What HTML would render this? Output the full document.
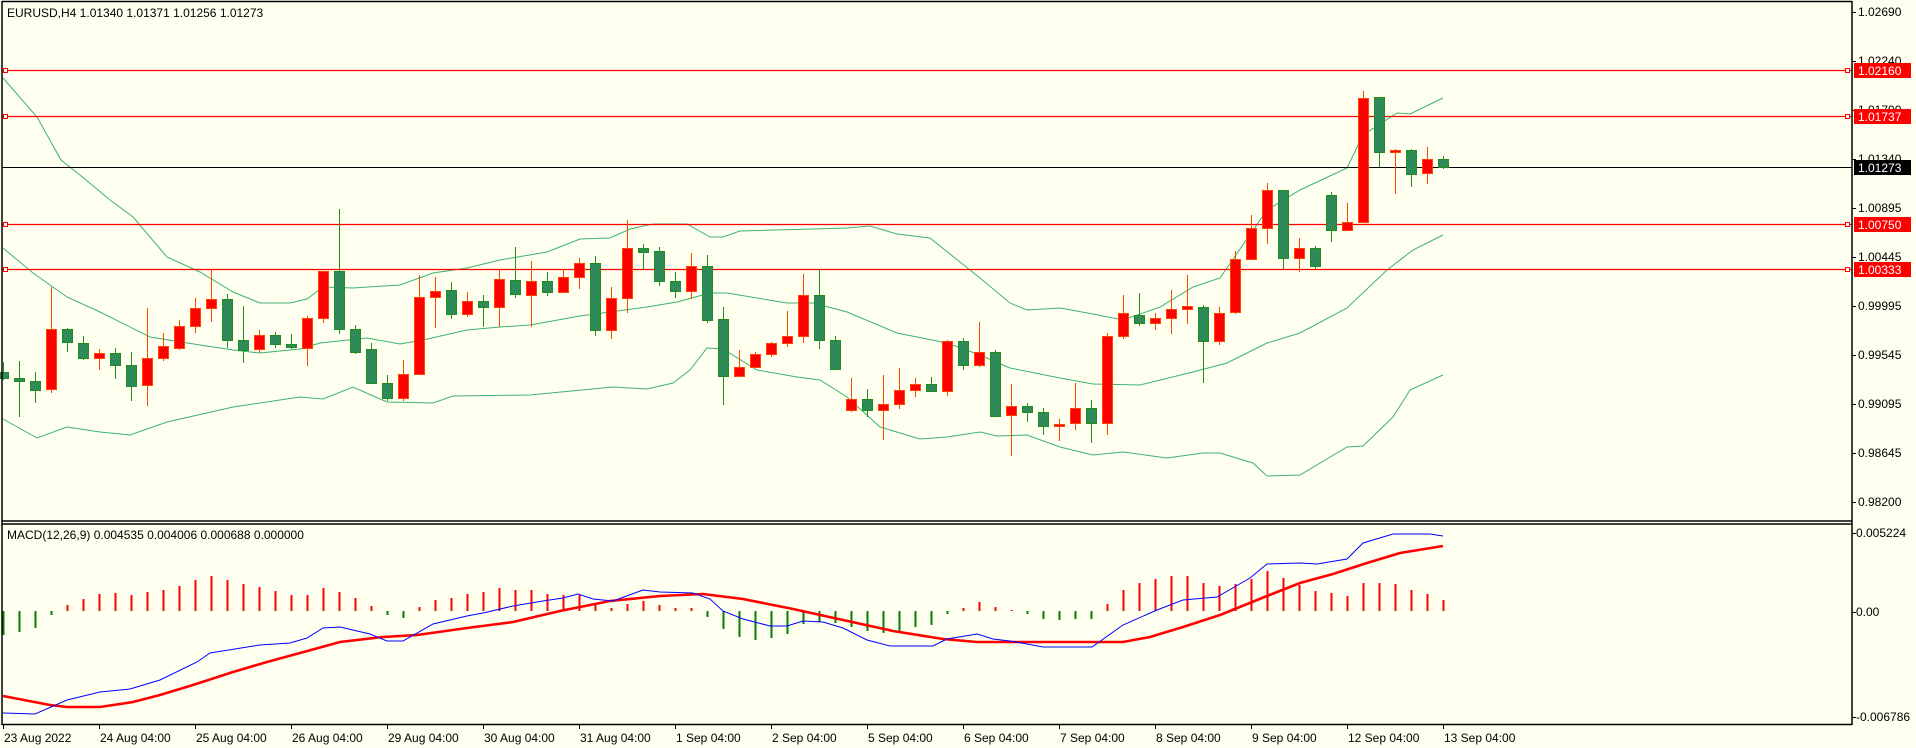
<!DOCTYPE html>
<html><head><meta charset="utf-8"><style>
html,body{margin:0;padding:0;background:#FFFFF0;}
svg{display:block;font-family:"Liberation Sans",Tahoma,sans-serif;font-size:12px;}
</style></head><body>
<svg id="c" width="1916" height="748" viewBox="0 0 1916 748" xmlns="http://www.w3.org/2000/svg">
<rect x="0" y="0" width="1916" height="748" fill="#FFFFF0"/>
<g id="bb" fill="none" stroke="#3CB371" stroke-width="1"></g>
<g id="hl"></g>
<g id="cd"></g>
<g id="mc"></g>
<g stroke="#000" stroke-width="1.5" fill="none">
<line x1="2" y1="1.5" x2="1852" y2="1.5"/>
<line x1="2" y1="1" x2="2" y2="725"/>
<line x1="1852" y1="1" x2="1852" y2="725"/>
<line x1="2" y1="521" x2="1852" y2="521"/>
<line x1="2" y1="524" x2="1852" y2="524"/>
<line x1="2" y1="724.5" x2="1852" y2="724.5"/>
</g>
<g id="ax" fill="#000"></g>
<text x="7" y="17" fill="#000">EURUSD,H4  1.01340 1.01371 1.01256 1.01273</text>
<text x="7" y="539" fill="#000">MACD(12,26,9) 0.004535 0.004006 0.000688 0.000000</text>
</svg>
<script>
var NS="http://www.w3.org/2000/svg";
function el(p,t,a,txt){var e=document.createElementNS(NS,t);for(var k in a)e.setAttribute(k,a[k]);if(txt!==undefined)e.textContent=txt;document.getElementById(p).appendChild(e);return e;}
function pts(a){return a.map(function(p){return p[0]+","+p[1]}).join(" ");}
var up=[[3,78],[37,117],[61,160],[80,175],[110,200],[133,217],[167,257],[200,272],[233,292],[260,303],[290,303],[307,299],[323,287],[353,288],[400,285],[433,273],[467,268],[500,260],[547,252],[580,239],[610,238],[630,229],[653,224],[687,224],[710,237],[723,237],[740,231],[813,229],[847,228],[870,226],[897,234],[930,238],[980,278],[1010,303],[1027,310],[1060,308],[1093,314],[1123,320],[1160,307],[1193,287],[1220,278],[1267,210],[1300,190],[1347,168],[1363,135],[1397,113],[1410,114],[1443,98]];
var mid=[[3,248],[33,273],[67,297],[100,312],[150,337],[200,345],[233,350],[260,353],[300,349],[320,343],[367,338],[400,344],[423,340],[467,330],[500,327],[530,325],[580,316],[647,307],[677,302],[710,293],[727,293],[787,303],[813,303],[847,312],[897,333],[947,343],[980,355],[1010,368],[1060,378],[1093,384],[1140,385],[1193,372],[1227,363],[1267,343],[1300,333],[1347,308],[1387,270],[1413,250],[1443,235]];
var lo=[[3,419],[37,438],[67,427],[100,432],[130,435],[167,422],[233,407],[300,397],[323,399],[353,387],[387,402],[433,403],[453,396],[530,395],[613,387],[647,389],[673,383],[690,370],[707,348],[723,349],[757,370],[797,377],[820,380],[847,397],[880,427],[920,439],[947,437],[980,432],[997,436],[1027,435],[1060,447],[1093,455],[1123,452],[1167,458],[1203,453],[1220,453],[1253,463],[1267,476],[1300,475],[1347,447],[1363,446],[1393,417],[1410,390],[1443,375]];
[up,mid,lo].forEach(function(a){el("bb","polyline",{points:pts(a)});});
[[70,"1.02160"],[116,"1.01737"],[224,"1.00750"],[269,"1.00333"]].forEach(function(h){
 el("hl","line",{x1:2,y1:h[0]+.5,x2:1852,y2:h[0]+.5,stroke:"#FF0000","stroke-width":1.2});
 el("hl","rect",{x:3.5,y:h[0]-1.5,width:4,height:4,fill:"#FFFFF0",stroke:"#FF0000"});
 el("hl","rect",{x:1845.5,y:h[0]-1.5,width:4,height:4,fill:"#FFFFF0",stroke:"#FF0000"});
});
el("hl","line",{x1:2,y1:167.5,x2:1852,y2:167.5,stroke:"#000","stroke-width":1});
var C=[
["g",372,378,362,380],["g",378,381,361,417],["g",381,390,372,403],["r",329,389,287,393],["g",329,342,328,352],["g",343,358,336,360],["r",353,358,349,370],["g",353,365,348,379],["g",365,386,352,401],["r",358,385,308,406],
["r",346,358,333,361],["r",326,348,320,350],["r",308,326,298,333],["r",299,308,270,322],["g",299,340,294,348],["g",340,350,306,363],["r",335,349,330,353],["g",335,344,332,348],["g",344,347,334,349],["r",318,348,316,366],
["r",271,318,271,323],["g",271,329,209,334],["g",329,352,325,354],["g",349,383,343,384],["g",383,398,375,401],["r",374,398,360,401],["r",297,374,275,374],["r",291,297,277,328],["g",290,314,282,319],["r",301,314,292,317],
["g",301,307,295,327],["r",279,307,270,327],["g",280,294,247,298],["r",281,295,261,327],["g",281,292,272,296],["r",277,292,269,292],["r",263,277,258,289],["g",263,330,256,336],["r",298,330,287,339],["r",248,298,220,313],
["g",248,252,244,269],["g",251,281,247,286],["g",281,291,272,298],["r",266,291,253,299],["g",266,320,255,323],["g",319,376,307,405],["r",367,376,350,377],["r",354,367,352,367],["r",343,354,342,357],["r",336,343,311,347],
["r",295,336,274,343],["g",295,340,269,349],["g",340,369,336,369],["r",399,410,378,412],["g",399,410,389,417],["r",404,410,375,440],["r",390,404,368,409],["r",384,390,378,397],["g",384,391,377,391],["r",341,391,340,396],
["g",341,365,338,370],["r",352,365,322,367],["g",352,416,350,417],["r",406,415,384,456],["g",406,412,403,422],["g",412,426,408,435],["r",424,426,419,441],["r",408,423,383,430],["g",408,423,400,443],["r",336,423,333,435],
["r",313,336,295,339],["g",315,323,293,326],["r",318,323,313,330],["r",309,318,290,334],["r",306,309,275,324],["g",307,341,305,383],["r",313,341,307,345],["r",259,312,251,314],["r",228,259,215,259],["r",190,228,183,244],
["g",190,258,190,269],["r",248,258,238,272],["g",248,266,246,269],["g",195,230,192,242],["r",222,230,203,231],["r",98,222,91,222],["g",97,152,97,167],["r",150,152,149,194],["g",150,174,149,187],["r",159,173,147,184],
["g",159,167,156,169]];
C.forEach(function(c,i){
 var x=3+16*i, st=c[0]=="r"?"#FF4500":"#228B22", f=c[0]=="r"?"#FF0000":"#2E8B57";
 el("cd","line",{x1:x+.5,y1:c[3],x2:x+.5,y2:c[4],stroke:st,"stroke-width":1});
 el("cd","rect",{x:x-4.5,y:c[1]+.5,width:10,height:Math.max(1,c[2]-c[1]),fill:f,stroke:st,"stroke-width":1});
});
var H=[-24,-21,-17,-4,6,12,17,18,16,19,21,25,31,35,31,27,24,20,16,16,23,19,13,5,-4,-7,4,11,13,17,19,23,21,21,17,16,16,6,3,7,10,6,3,3,-6,-18,-26,-29,-27,-23,-13,-11,-12,-16,-20,-22,-20,-16,-14,-3,3,9,4,1,-3,-8,-9,-8,-8,7,21,28,32,35,35,28,25,27,32,40,33,26,20,18,15,28,28,27,21,17,11];
H.forEach(function(v,i){var x=3+16*i;
 el("mc","rect",{x:x-.5,y:v>0?611-v:611,width:2,height:Math.abs(v),fill:v>0?"#FF0000":"#008000"});});
var blue=[[3,713],[35,714],[67,700],[100,692],[130,689],[160,680],[197,662],[210,653],[260,645],[290,643],[307,638],[323,628],[340,627],[370,634],[387,641],[403,641],[433,624],[467,616],[483,613],[513,606],[543,601],[563,598],[578,594],[593,599],[613,601],[643,590],[660,592],[693,593],[710,599],[723,611],[743,619],[770,626],[787,626],[803,621],[823,622],[843,628],[867,640],[890,646],[933,646],[947,639],[977,634],[993,639],[1010,641],[1027,644],[1043,647],[1092,647],[1123,625],[1157,610],[1183,600],[1217,597],[1250,578],[1267,564],[1300,563],[1317,564],[1347,559],[1363,543],[1393,534],[1430,534],[1443,536]];
var red=[[3,696],[50,705],[67,707],[100,707],[133,702],[160,695],[193,685],[233,672],[267,662],[300,653],[340,642],[383,637],[417,635],[467,628],[513,622],[560,611],[610,601],[660,596],[703,594],[743,599],[793,609],[843,620],[893,631],[943,639],[977,642],[1123,642],[1150,637],[1183,627],[1220,615],[1267,596],[1300,583],[1333,574],[1367,563],[1400,553],[1443,546]];
el("mc","polyline",{points:pts(red),fill:"none",stroke:"#FF0000","stroke-width":2.6});
el("mc","polyline",{points:pts(blue),fill:"none",stroke:"#0000FF","stroke-width":1});
["1.02690","1.02240","1.01790","1.01340","1.00895","1.00445","0.99995","0.99545","0.99095","0.98645","0.98200"].forEach(function(t,k){
 var y=Math.round(12+k*48.95);
 el("ax","line",{x1:1852,y1:y+.5,x2:1856,y2:y+.5,stroke:"#000"});
 el("ax","text",{x:1858,y:y+4},t);
});
[[70,"1.02160"],[116,"1.01737"],[224,"1.00750"],[269,"1.00333"]].forEach(function(h){
 el("ax","rect",{x:1854,y:h[0]-7,width:57,height:15,fill:"#FF0000"});
 el("ax","text",{x:1858,y:h[0]+5,fill:"#fff"},h[1]);});
el("ax","rect",{x:1854,y:160,width:57,height:15,fill:"#000"});
el("ax","text",{x:1858,y:172,fill:"#fff"},"1.01273");
[[533,"0.005224"],[612,"0.00"],[717,"-0.006786"]].forEach(function(m){
 el("ax","line",{x1:1852,y1:m[0]+.5,x2:1856,y2:m[0]+.5,stroke:"#000"});
 el("ax","text",{x:1856,y:m[0]+4},m[1]);});
["23 Aug 2022","24 Aug 04:00","25 Aug 04:00","26 Aug 04:00","29 Aug 04:00","30 Aug 04:00","31 Aug 04:00","1 Sep 04:00","2 Sep 04:00","5 Sep 04:00","6 Sep 04:00","7 Sep 04:00","8 Sep 04:00","9 Sep 04:00","12 Sep 04:00","13 Sep 04:00"].forEach(function(t,k){
 var x=3+96*k;
 el("ax","line",{x1:x+.5,y1:725,x2:x+.5,y2:729,stroke:"#000"});
 el("ax","text",{x:x+1,y:742},t);});
</script>
</body></html>
